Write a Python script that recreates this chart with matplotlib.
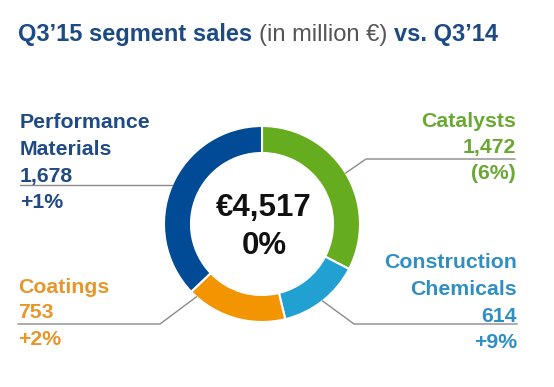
import numpy as np
import matplotlib.pyplot as plt

# donnees
segments = ['Catalysts', 'Construction\nChemicals', 'Coatings', 'Performance\nMaterials']
ventes = [1472, 614, 753, 1678]
variation = ['(6%)', '+9%', '+2%', '+1%']
couleurs = ['#65ac1e', '#21a0d2', '#f39500', '#004a96']
couleurs_texte = ['#6aa832', '#2f8fc4', '#e8962a', '#1f4a86']
total = '€4,517'
total_var = '0%'

W, H = 554, 387
fig = plt.figure(figsize=(W / 100, H / 100), dpi=100)
ax = fig.add_axes([0, 0, 1, 1])

plt.rcParams['font.family'] = ['Liberation Sans', 'DejaVu Sans']

cx, cy, R = 262, H - 224, 98
ax.pie(ventes, colors=couleurs, startangle=90, counterclock=False,
       center=(cx, cy), radius=R, frame=True,
       wedgeprops=dict(width=27, edgecolor='white', linewidth=1.5))
ax.set_xlim(0, W)
ax.set_ylim(0, H)
ax.set_aspect('equal')
ax.axis('off')

# angles des parts
fr = np.array(ventes) / sum(ventes) * 360
fin = 90 - np.cumsum(fr)
debut = fin + fr
milieu = (debut + fin) / 2
milieu[2] = -132  # coatings : le trait part plus bas a gauche

def bord(a):
    t = np.deg2rad(a)
    return cx + R * np.cos(t), cy + R * np.sin(t)

gris = '#8a8a8a'
# Catalysts
x0, y0 = bord(milieu[0])
ax.plot([x0, 366, 515], [y0, H - 159, H - 159], color=gris, lw=1)
# Construction Chemicals
x0, y0 = bord(milieu[1])
ax.plot([x0, 354, 517], [y0, H - 324, H - 324], color=gris, lw=1)
# Coatings
x0, y0 = bord(milieu[2])
ax.plot([x0, 160, 18], [y0, H - 324, H - 324], color=gris, lw=1)
# Performance Materials
x0, y0 = bord(milieu[3])
ax.plot([x0, 20], [y0, y0], color=gris, lw=1)

fs = 15.3
def lignes(x, ys, textes, c, ha):
    for y, t in zip(ys, textes):
        ax.text(x, H - y, t, color=c, fontsize=fs, fontweight='bold', ha=ha, va='baseline')

lignes(20, [128, 155, 182, 208], segments[3].split('\n') + [f'{ventes[3]:,}', variation[3]], couleurs_texte[3], 'left')
lignes(516, [127, 153, 179], [segments[0], f'{ventes[0]:,}', variation[0]], couleurs_texte[0], 'right')
lignes(18, [293, 318, 345], [segments[2], f'{ventes[2]:,}', variation[2]], couleurs_texte[2], 'left')
lignes(517, [268, 295, 322, 348], segments[1].split('\n') + [f'{ventes[1]:,}', variation[1]], couleurs_texte[1], 'right')

# centre
ax.text(cx + 2, H - 216, total, fontsize=22.5, fontweight='bold', ha='center', va='baseline', color='#111111')
ax.text(cx + 2, H - 254, total_var, fontsize=22.5, fontweight='bold', ha='center', va='baseline', color='#111111')

# titre en trois morceaux
bleu = '#1c4a84'
morceaux = [('Q3\u201915 segment sales ', 'bold', bleu),
            ('(in million €) ', 'normal', '#555555'),
            ('vs. Q3\u201914', 'bold', bleu)]
x = 18
fig.canvas.draw()
r = fig.canvas.get_renderer()
for t, w, c in morceaux:
    txt = ax.text(x, H - 41, t, fontsize=17, fontweight=w, color=c, ha='left', va='baseline')
    bb = txt.get_window_extent(renderer=r)
    x = bb.x1

plt.savefig('out.png', dpi=100)
